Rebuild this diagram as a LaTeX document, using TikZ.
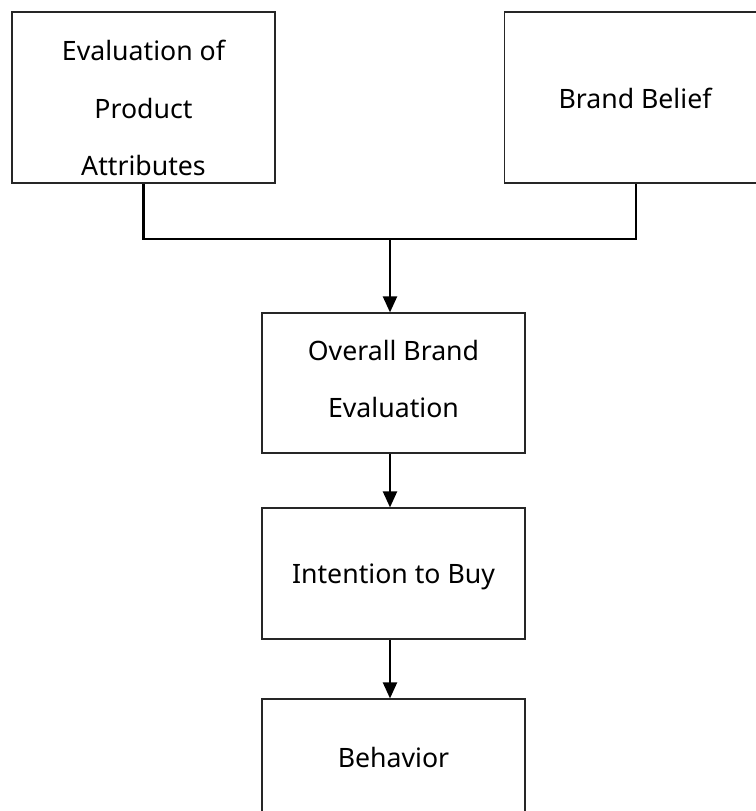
\documentclass[tikz,border=0pt]{standalone}
\usepackage{fontspec}
\setmainfont{Noto Sans}
\usetikzlibrary{arrows.meta}
\begin{document}
\begin{tikzpicture}[x=0.75pt,y=-0.75pt,
  box/.style={draw=black!85,line width=0.9pt,minimum width=197.25pt,inner sep=0pt},
  label/.style={anchor=base,font=\fontsize{20}{24}\selectfont,inner sep=0pt},
  link/.style={draw=black,line width=1.6pt},
  flow/.style={link,-{Triangle[width=10.5pt,length=12pt]}}]
  \useasboundingbox (0,0) rectangle (756,811);
  \clip (0,0) rectangle (756,811);
  % boxes
  \node[box,minimum height=128.25pt] (attr)   at (143.5,97.5) {};
  \node[box,minimum height=128.25pt] (belief) at (636,97.5) {};
  \node[box,minimum height=105pt]    (overall) at (393.5,383) {};
  \node[box,minimum height=98.25pt]  (intent) at (393.5,573.5) {};
  \node[box,minimum height=98.25pt]  (behav)  at (393.5,764.5) {};
  % texts
  \node[label] (t1a) at (143.5,60)  {Evaluation of};
  \node[label] (t1b) at (143.5,118) {Product};
  \node[label] (t1c) at (143.5,175) {Attributes};
  \node[label] (t2)  at (635,108)   {Brand Belief};
  \node[label] (t3a) at (393.5,360) {Overall Brand};
  \node[label] (t3b) at (393.5,417) {Evaluation};
  \node[label] (t4)  at (393.5,583) {Intention to Buy};
  \node[label] (t5)  at (393.5,767) {Behavior};
  % connectors
  \coordinate (join) at (390,239);
  \draw[link] (attr.south) |- (join) -| (belief.south);
  \draw[flow] (join) -- (join |- overall.north);
  \draw[flow] (join |- overall.south) -- (join |- intent.north);
  \draw[flow] (join |- intent.south) -- (join |- behav.north);
\end{tikzpicture}
\end{document}
